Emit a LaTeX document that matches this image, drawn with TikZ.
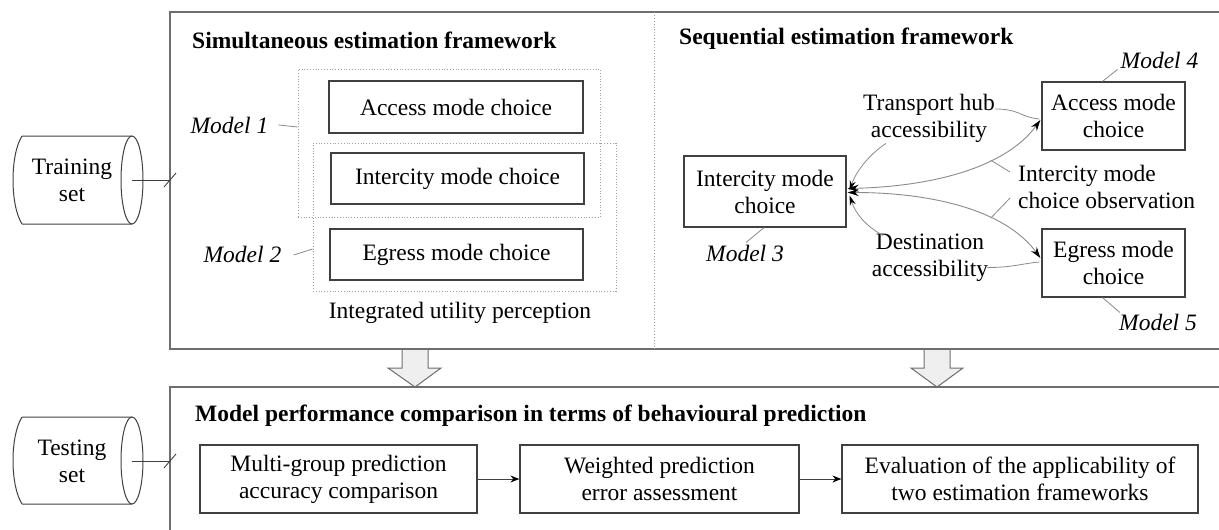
\documentclass[tikz,border=0pt]{standalone}
\usepackage{fontspec}
\setmainfont{Liberation Serif}
\usetikzlibrary{arrows.meta}
\definecolor{boxc}{HTML}{404040}
\definecolor{panc}{HTML}{6E6E6E}
\definecolor{linec}{HTML}{8A8A8A}
\definecolor{dotc}{HTML}{A0A0A0}
\definecolor{arrfill}{HTML}{EFEFEF}
\begin{document}
\begin{tikzpicture}[x=1pt,y=-1pt,
  font=\fontsize{23.5}{27}\selectfont,
  box/.style={draw=boxc,line width=1.2pt,inner sep=0pt,align=center},
  lab/.style={inner sep=0pt,align=center},
  mlab/.style={inner sep=0pt,font=\fontsize{23.5}{27}\selectfont\itshape},
  ttl/.style={inner sep=0pt,anchor=west,font=\fontsize{23.5}{27}\selectfont\bfseries},
  thin/.style={draw=linec,line width=0.8pt},
  conn/.style={draw=boxc,line width=0.9pt},
  dotbox/.style={draw=dotc,dotted,line width=0.8pt,inner sep=0pt},
  panel/.style={draw=panc,line width=1.3pt},
  cyl/.style={draw=boxc,line width=1pt},
  main/.style={draw=linec,line width=0.9pt,{Stealth[length=11pt,width=7pt,color=black]}-{Stealth[length=11pt,width=7pt,color=black]}},
  tip/.style={-{Stealth[length=10pt,width=6pt,color=black]}},
  ar/.style={draw=boxc,line width=1pt,-{Stealth[length=9pt,width=7pt,color=black]}},
  blockarrow/.style={draw=panc,fill=arrfill,line width=1pt}]
\useasboundingbox (0,0) rectangle (1219,530);

% block arrows
\draw[blockarrow] (402,349) -- (402,368) -- (388,368) -- (415,387) -- (441,368) -- (428,368) -- (428,349) -- cycle;
\draw[blockarrow] (924,349) -- (924,368) -- (911,368) -- (937,387) -- (963,368) -- (950,368) -- (950,349) -- cycle;

% panels
\draw[panel] (1219,12) -- (170,12) -- (170,349) -- (1219,349);
\draw[draw=dotc,dotted,line width=0.9pt] (654,12) -- (654,349);
\draw[panel] (1219,387) -- (170,387) -- (170,530);
\coordinate (tpL) at (170,180);
\coordinate (bpL) at (170,461);

% cylinders
\draw[cyl] (22,136) -- (132,136) (22,224) -- (132,224) (22,136) .. controls (10,155) and (10,205) .. (22,224);
\draw[cyl] (132,180) ellipse [x radius=11pt, y radius=44pt];
\coordinate (trainR) at (132,180);
\node[lab] (train) at (72,180) {Training\\set};
\draw[conn] (trainR) -- (tpL);
\draw[conn] ([shift={(-6,7)}]tpL) -- ([shift={(6,-7)}]tpL);

\draw[cyl] (22,417) -- (132,417) (22,504) -- (132,504) (22,417) .. controls (10,436) and (10,485) .. (22,504);
\draw[cyl] (132,460.5) ellipse [x radius=11pt, y radius=43.5pt];
\coordinate (testR) at (132,461);
\node[lab] (test) at (72,461) {Testing\\set};
\draw[conn] (testR) -- (bpL);
\draw[conn] ([shift={(-6,7)}]bpL) -- ([shift={(6,-7)}]bpL);

% simultaneous framework
\node[ttl] (simT) at (192,40) {Simultaneous estimation framework};
\node[dotbox,minimum width=302pt,minimum height=148pt] (m1) at (449,143) {};
\node[dotbox,minimum width=303pt,minimum height=148pt] (m2) at (464.5,217) {};
\node[box,minimum width=254pt,minimum height=52pt] (acc) at (456,107) {Access mode choice};
\node[box,minimum width=253pt,minimum height=51pt] (int) at (457.5,178.5) {Intercity mode choice};
\node[box,minimum width=253pt,minimum height=51pt] (egr) at (456.5,254.5) {Egress mode choice};
\node[lab] (iup) at (460,313) {Integrated utility perception};
\node[mlab] (ml1) at (229.5,125) {Model 1};
\node[mlab] (ml2) at (242.5,254) {Model 2};
\draw[thin] ([shift={(10,0)}]ml1.east) -- ([shift={(0,-16)}]m1.west);
\draw[thin] ([shift={(12,1)}]ml2.east) -- ([shift={(0,32)}]m2.west);

% sequential framework
\node[ttl] (seqT) at (679,39) {Sequential estimation framework};
\node[box,minimum width=162pt,minimum height=71pt] (sint) at (765,191.5) {Intercity mode\\choice};
\node[box,minimum width=143pt,minimum height=68pt] (sacc) at (1113.5,116) {Access mode\\choice};
\node[box,minimum width=143pt,minimum height=68pt] (segr) at (1113.5,263) {Egress mode\\choice};
\node[mlab] (ml3) at (745,253) {Model 3};
\node[mlab] (ml4) at (1159.5,60) {Model 4};
\node[mlab] (ml5) at (1158,322) {Model 5};
\draw[thin] ([shift={(-1,0)}]sint.south) -- ([shift={(1,-2)}]ml3.north);
\draw[thin] ([shift={(-11,0)}]sacc.north) -- ([shift={(-3,1)}]ml4.south west);
\draw[thin] ([shift={(-11,0)}]segr.south) -- ([shift={(1,-1)}]ml5.north west);

\draw[main] ([shift={(1,-3)}]sint.east) .. controls +(84,-2) and +(-35,48) .. ([shift={(-1,4)}]sacc.west) coordinate[pos=0.65] (oU);
\draw[main] ([shift={(1,1)}]sint.east) .. controls +(84,0) and +(-35,-48) .. ([shift={(-1,-5)}]segr.west) coordinate[pos=0.65] (oL);

\node[lab] (th) at (929,118) {Transport hub\\accessibility};
\node[lab] (da) at (930,257.5) {Destination\\accessibility};
\node[lab,align=left,anchor=west] (obs) at (1018,187) {Intercity mode\\choice observation};

\draw[thin] ([shift={(0,-9)}]th.east) .. controls +(25,0) and +(-20,-2) .. ([shift={(-2,3)}]sacc.west);
\draw[thin,tip] ([shift={(-43,1)}]th.south) .. controls +(-18,12) and +(6,-18) .. ([shift={(3,-1)}]sint.east);
\draw[thin,tip] ([shift={(-47,2)}]da.north) .. controls +(-18,-10) and +(6,18) .. ([shift={(3,4)}]sint.east);
\draw[thin] ([shift={(-1,10)}]da.east) .. controls +(25,0) and +(-20,2) .. ([shift={(-2,-1)}]segr.west);
\draw[thin] ([shift={(-8,-15)}]obs.west) -- (oU);
\draw[thin] ([shift={(-8,11)}]obs.west) -- (oL);

% bottom panel
\node[ttl] (perf) at (195,416) {Model performance comparison in terms of behavioural prediction};
\node[box,minimum width=277pt,minimum height=68pt] (b1) at (338.5,479) {Multi-group prediction\\accuracy comparison};
\node[box,minimum width=279pt,minimum height=68pt] (b2) at (659.5,479) {Weighted prediction\\error assessment};
\node[box,minimum width=356pt,minimum height=68pt] (b3) at (1020,479) {Evaluation of the applicability of\\two estimation frameworks};
\draw[ar] (b1) -- (b2);
\draw[ar] (b2) -- (b3);
\end{tikzpicture}
\end{document}
